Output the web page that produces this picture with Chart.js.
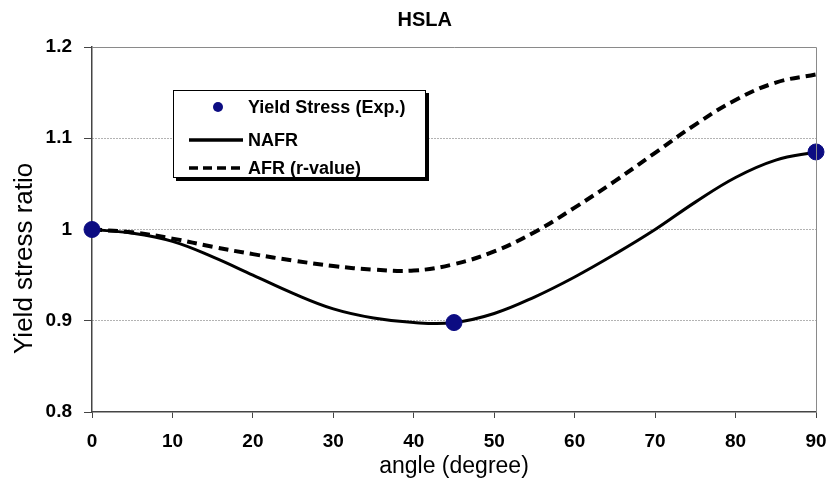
<!DOCTYPE html>
<html>
<head>
<meta charset="utf-8">
<title>HSLA yield stress ratio</title>
<script src="https://cdn.jsdelivr.net/npm/chart.js@4.4.1/dist/chart.umd.min.js"></script>
<style>
  html, body { margin: 0; padding: 0; background: #fff; }
  #wrap { position: relative; width: 831px; height: 487px; }
  #legend {
    position: absolute; left: 173px; top: 90px; width: 251px; height: 86px;
    border: 1px solid #000; background: #fff; box-shadow: 3px 3px 0 #000;
    font: bold 18px 'Liberation Sans', Arial, sans-serif; color: #000;
  }
  .row { position: absolute; left: 0; height: 22px; display: flex; align-items: center; }
  .mark { width: 54px; height: 22px; margin-left: 15px; display: flex; align-items: center; justify-content: center; }
  .txt { margin-left: 5px; white-space: nowrap; }
</style>
</head>
<body>
<div id="wrap">
  <canvas id="chart" width="831" height="487"></canvas>
  <div id="legend"></div>
</div>
<script>
// ---------- DATA ----------
const angles = [0, 5, 10, 15, 20, 25, 30, 35, 40, 45, 50, 55, 60, 65, 70, 75, 80, 85, 90];
const nafr   = [1.000, 0.996, 0.987, 0.970, 0.950, 0.930, 0.913, 0.903, 0.898, 0.898,
                0.908, 0.926, 0.948, 0.973, 1.000, 1.030, 1.057, 1.076, 1.085];
const afr    = [1.000, 0.997, 0.990, 0.981, 0.973, 0.966, 0.960, 0.956, 0.955, 0.962,
                0.976, 0.997, 1.024, 1.053, 1.084, 1.115, 1.142, 1.161, 1.170];
const expAngles = [0, 45, 90];
const expYield  = [1.000, 0.898, 1.085];
const xTicks = [0, 10, 20, 30, 40, 50, 60, 70, 80, 90];
const yTicks = [0.8, 0.9, 1.0, 1.1, 1.2];

const seriesLabels = ["Yield Stress (Exp.)", "NAFR", "AFR (r-value)"];
const navy = "#0c0c82";
const sans = "'Liberation Sans', Arial, sans-serif";

const toXY = (xs, ys) => xs.map((x, i) => ({ x, y: ys[i] }));

// plot frame (top + right) like the original
const framePlugin = {
  id: "frame",
  afterDraw(chart) {
    const { ctx, chartArea: a } = chart;
    ctx.save();
    ctx.strokeStyle = "#8a8a8a";
    ctx.lineWidth = 1;
    ctx.beginPath();
    ctx.moveTo(a.left, a.top + 0.5);
    ctx.lineTo(a.right + 0.5, a.top + 0.5);
    ctx.lineTo(a.right + 0.5, a.bottom);
    ctx.stroke();
    ctx.restore();
  }
};

const chart = new Chart(document.getElementById("chart"), {
  type: "line",
  data: {
    datasets: [
      {
        label: seriesLabels[0],
        data: toXY(expAngles, expYield),
        showLine: false,
        pointRadius: 8,
        pointHoverRadius: 8,
        pointBackgroundColor: navy,
        pointBorderColor: navy,
        clip: false
      },
      {
        label: seriesLabels[1],
        data: toXY(angles, nafr),
        borderColor: "#000",
        borderWidth: 3,
        pointRadius: 0,
        tension: 0.4,
        clip: false
      },
      {
        label: seriesLabels[2],
        data: toXY(angles, afr),
        borderColor: "#000",
        borderWidth: 4,
        borderDash: [10, 6],
        pointRadius: 0,
        tension: 0.4,
        clip: false
      }
    ]
  },
  options: {
    responsive: false,
    animation: false,
    layout: { padding: { top: 0, right: 15, bottom: 0, left: 0 } },
    plugins: {
      legend: { display: false },
      tooltip: { enabled: false },
      title: {
        display: true,
        // leading spaces nudge the title right, as in the original
        text: "      HSLA",
        color: "#000",
        font: { family: sans, size: 20, weight: "bold" },
        padding: { top: 8, bottom: 15 }
      }
    },
    scales: {
      x: {
        type: "linear",
        min: 0,
        max: 90,
        afterBuildTicks: s => { s.ticks = xTicks.map(v => ({ value: v })); },
        afterFit: s => { s.height = 75; s.paddingLeft = 0; s.paddingRight = 0; },
        grid: { drawOnChartArea: false, drawTicks: true, tickLength: 6, tickColor: "#444" },
        border: { color: "#444", width: 1.5 },
        ticks: {
          color: "#000",
          padding: 12,
          font: { family: sans, size: 19, weight: "bold" }
        },
        title: {
          display: true,
          text: "angle (degree)",
          color: "#000",
          font: { family: sans, size: 23 },
          padding: { top: 0, bottom: 7 }
        }
      },
      y: {
        type: "linear",
        min: 0.8,
        max: 1.2,
        afterBuildTicks: s => { s.ticks = yTicks.map(v => ({ value: v })); },
        afterFit: s => { s.width = 92; },
        grid: {
          color: c => (c.tick && (c.tick.value === 0.8 || c.tick.value === 1.2)) ? "rgba(0,0,0,0)" : "#666",
          lineWidth: 1,
          tickLength: 8,
          tickColor: "#444",
          tickBorderDash: []
        },
        border: { color: "#444", width: 1.5, dash: [1, 2] },
        ticks: {
          color: "#000",
          padding: 12,
          font: { family: sans, size: 19, weight: "bold" },
          callback: v => String(Math.round(v * 10) / 10)
        },
        title: {
          display: true,
          // trailing spaces push the label down, as in the original
          text: "Yield stress ratio        ",
          color: "#000",
          font: { family: sans, size: 26 },
          padding: { top: 9, bottom: 0 }
        }
      }
    }
  },
  plugins: [framePlugin]
});

// ---------- HTML LEGEND (inside plot) ----------
const legendEl = document.getElementById("legend");
const rowTops = [5, 38, 66];
chart.data.datasets.forEach((ds, i) => {
  const row = document.createElement("div");
  row.className = "row";
  row.style.top = rowTops[i] + "px";
  let mark;
  if (ds.showLine === false) {
    mark = `<svg width="54" height="22"><circle cx="29" cy="11" r="5" fill="${navy}"/></svg>`;
  } else {
    const dash = ds.borderDash ? `stroke-dasharray="9 5"` : "";
    mark = `<svg width="54" height="22"><line x1="0" y1="11" x2="54" y2="11" stroke="#000" stroke-width="3.5" ${dash}/></svg>`;
  }
  row.innerHTML = `<span class="mark">${mark}</span><span class="txt">${ds.label}</span>`;
  legendEl.appendChild(row);
});
</script>
</body>
</html>
